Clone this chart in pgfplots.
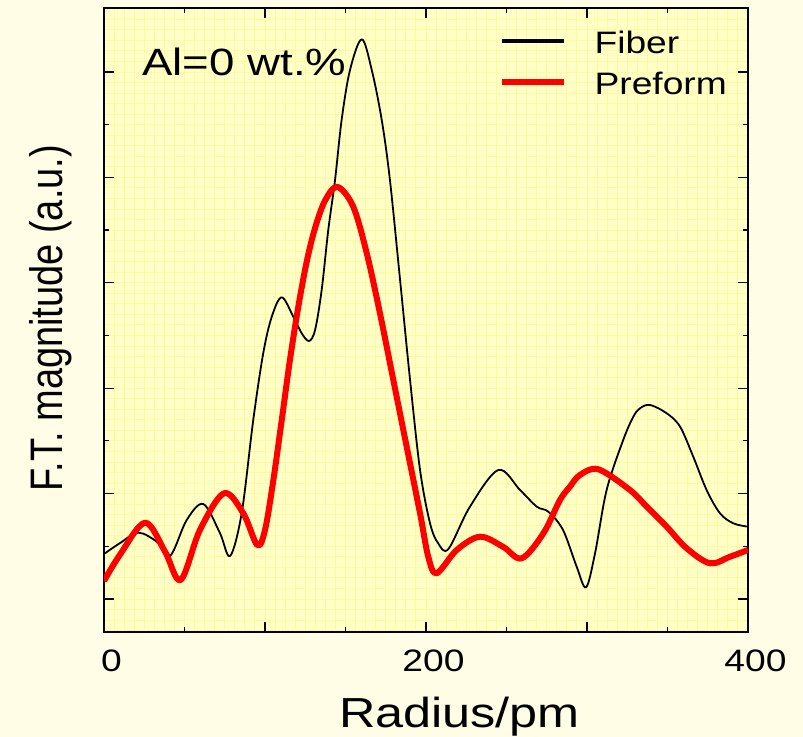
\documentclass[border=0pt]{standalone}
\usepackage{fontspec}
\setmainfont{Liberation Sans}
\usepackage{pgfplots}
\pgfplotsset{compat=1.18}

\definecolor{pagecream}{RGB}{255,253,230}
\definecolor{plotyellow}{RGB}{255,255,198}
\definecolor{gridyellow}{RGB}{255,248,165}
\definecolor{preformred}{RGB}{255,0,0}

% text is set slightly wider than its natural shape
\newcommand\hs[1]{\scalebox{1.2}[1]{#1}}

% Fourier-transform magnitude, radius in pm
\pgfplotstableread{
r      ft
0      0.427
9.9    0.530
21.3   0.629
32.7   0.544
41.0   0.408
51.4   0.750
61.7   0.901
72.0   0.626
78.3   0.408
85.5   0.813
92.7   1.698
98.9   2.331
104.2  2.678
110.4  2.862
117.6  2.678
122.8  2.521
127.3  2.448
131.1  2.552
135.2  2.932
139.3  3.501
143.5  3.975
147.6  4.545
152.8  5.019
160.1  5.310
166.3  5.019
172.5  4.545
177.6  3.975
183.9  3.027
190.1  2.078
196.3  1.224
202.5  0.718
207.6  0.528
213.9  0.474
227.3  0.876
244.9  1.224
258.4  1.034
268.8  0.876
276.0  0.828
285.1  0.655
293.6  0.306
299.4  0.111
305.0  0.434
312.2  1.034
322.5  1.509
328.8  1.730
332.9  1.809
339.1  1.841
349.5  1.762
357.8  1.635
366.0  1.350
374.3  1.034
382.6  0.813
390.9  0.718
400    0.686
}\fiberdata

\pgfplotstableread{
r      ft
0      0.171
9.9    0.420
25.5   0.724
37.9   0.450
47.6   0.180
59.6   0.655
74.5   1.003
86.5   0.813
95.2   0.512
100.0  0.655
105.2  1.129
110.4  1.698
115.5  2.268
120.7  2.773
125.9  3.200
131.1  3.520
137.3  3.780
145.0  3.910
154.8  3.722
163.2  3.280
171.4  2.711
179.7  2.078
188.0  1.445
196.3  0.813
201.4  0.401
206.6  0.244
219.1  0.465
233.5  0.591
247.8  0.496
259.4  0.386
272.9  0.623
283.2  0.939
289.4  1.066
295.6  1.176
307.0  1.231
326.7  1.034
337.1  0.876
349.5  0.686
361.9  0.481
376.4  0.339
388.8  0.401
400    0.465
}\preformdata

\pgfplotsset{
  frame/.style={
    at={(0,0)}, anchor=south west,
    scale only axis, width=322pt, height=312pt,
    xmin=0, xmax=400, ymin=-0.313, ymax=5.607,
  },
}

\begin{document}
\begin{tikzpicture}
\path[use as bounding box, fill=pagecream] (-52pt,-52.5pt) rectangle (349.5pt,316pt);

% background paper with a fine grid
\begin{axis}[
  frame,
  axis background/.style={fill=plotyellow},
  axis line style={draw=none},
  major tick length=0pt,
  xtick={0,6.25,...,400}, ytick={-0.3,-0.2,...,5.6},
  xticklabels={}, yticklabels={},
  grid=major,
  major grid style={gridyellow, line width=0.45pt},
]
\end{axis}

\begin{axis}[
  frame,
  axis line style={line width=1pt},
  tick style={black, line width=0.6pt},
  major tick length=5pt, minor tick length=2.5pt,
  xtick={0,100,...,400},
  xticklabels={\hs{0},,\hs{200},,\hs{400}},
  minor x tick num=1,
  ytick={0,1,...,5}, yticklabels={},
  minor y tick num=1,
  xticklabel style={font=\fontsize{15.5}{18}\selectfont, anchor=base, yshift=-20pt, xshift=3.75pt},
  xlabel={\hs{Radius/pm}},
  xlabel style={at={(rel axis cs:0.552,-0.1538)}, anchor=base,
    font=\fontsize{21}{25}\selectfont},
  ylabel={\scalebox{1}[1.2]{F.T. magnitude (a.u.)}},
  ylabel style={at={(rel axis cs:-0.0652,0.503)}, anchor=base,
    font=\fontsize{19}{23}\selectfont},
  legend style={at={(0.613,0.9805)}, anchor=north west, draw=none, fill=none,
    inner sep=0pt, column sep=14pt, row sep=0pt,
    font=\fontsize{15.5}{18}\selectfont,
    nodes={inner sep=0pt, text height=16.25pt, text depth=4.25pt, anchor=west}},
  legend cell align=left,
  legend image code/.code={\draw[#1] (0pt,0pt) -- (31pt,0pt);},
]
\addplot[black, line width=0.9pt, smooth, tension=0.55, line join=round,
  legend image post style={line width=1.6pt}] table[x=r, y=ft] {\fiberdata};
\addlegendentry{\hs{Fiber}}
\addplot[preformred, line width=3pt, smooth, tension=0.55, line join=round,
  legend image post style={line width=2.7pt}] table[x=r, y=ft] {\preformdata};
\addlegendentry{\hs{Preform}}

\node[anchor=base west, inner sep=0pt, font=\fontsize{19}{22}\selectfont]
  at (axis cs:23.6,4.97) {\hs{Al=0 wt.\%}};
\end{axis}
\end{tikzpicture}
\end{document}
